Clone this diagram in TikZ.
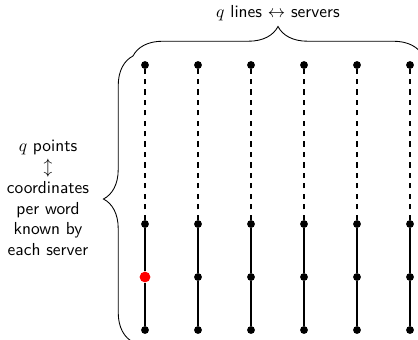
\documentclass[tikz,border=0pt]{standalone}
\usetikzlibrary{decorations.pathreplacing}
\begin{document}
\begin{tikzpicture}[x=0.575pt,y=-0.575pt,
  dot/.style={circle,fill=black,inner sep=0pt,minimum size=4.5pt},
  reddot/.style={circle,fill=red,inner sep=0pt,minimum size=6.2pt},
  solidline/.style={line width=0.6pt},
  dashline/.style={line width=0.6pt,dashed},
  bracestyle/.style={decorate,decoration={brace,amplitude=17pt},line width=0.5pt},
  label/.style={font=\sffamily,align=center,inner sep=0pt}]
  \useasboundingbox (0,0) rectangle (418,339);
  \clip (0,0) rectangle (418,339);

  % corners of the braces
  \coordinate (bl) at (133,342);
  \coordinate (tl) at (133,56);
  \coordinate (tr) at (423,56);

  % lines: three points below (solid), one point above (dashed)
  \foreach \i in {0,...,5} {
    \pgfmathsetmacro\xx{145+53*\i}
    \node[dot] (c\i-5) at (\xx,65) {};
    \node[dot] (c\i-2) at (\xx,224) {};
    \ifnum\i=0
      \node[reddot] (c\i-1) at (\xx,277) {};
    \else
      \node[dot] (c\i-1) at (\xx,277) {};
    \fi
    \node[dot] (c\i-0) at (\xx,330) {};
    \draw[solidline] (c\i-0) -- (c\i-1) -- (c\i-2);
    \draw[dashline] (c\i-2) -- (c\i-5);
  }

  % braces
  \draw[bracestyle] (bl) -- (tl);
  \draw[bracestyle] (tl) -- (tr);

  % labels
  \node[label] (toplabel) at (278,13) {$q$ lines $\leftrightarrow$ servers};
  \node[label] (leftlabel) at (48,198) {$q$ points\\$\updownarrow$\\coordinates\\per word\\known by\\each server};
\end{tikzpicture}
\end{document}
